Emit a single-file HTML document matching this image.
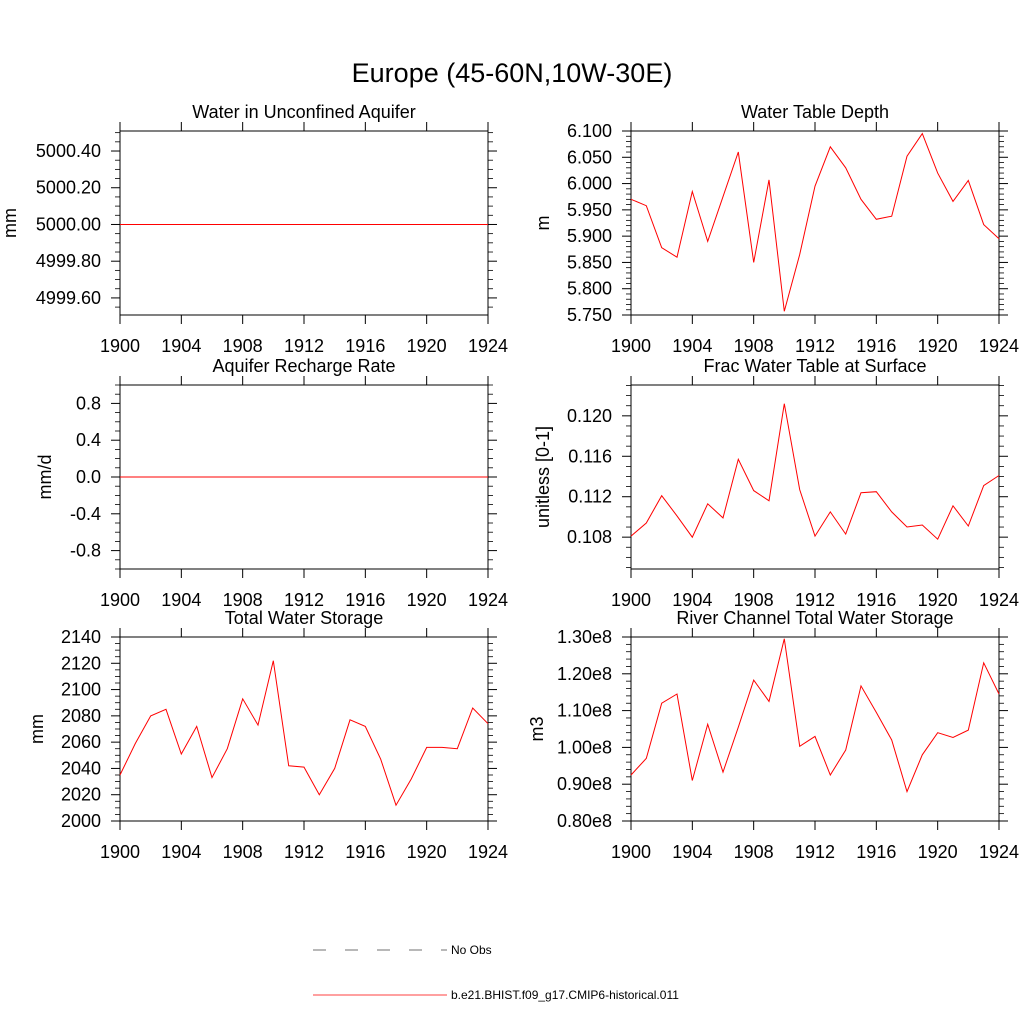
<!DOCTYPE html>
<html><head><meta charset="utf-8"><style>
body{margin:0;background:#fff;}
svg{display:block;font-family:"Liberation Sans",sans-serif;}
</style></head><body>
<svg id="c" width="1024" height="1024" xmlns="http://www.w3.org/2000/svg">
<rect width="1024" height="1024" fill="#fff"/>
<text x="512" y="82" font-size="27" text-anchor="middle">Europe (45-60N,10W-30E)</text>
<g>
<line x1="313" y1="950" x2="447" y2="950" stroke="#444" stroke-width="0.7" stroke-dasharray="13,19"/>
<text x="451" y="954" font-size="12">No Obs</text>
<line x1="313" y1="995" x2="447" y2="995" stroke="red" stroke-width="0.7"/>
<text x="451" y="999" font-size="12">b.e21.BHIST.f09_g17.CMIP6-historical.011</text>
</g>
</svg>
<script>
const years = [1900,1901,1902,1903,1904,1905,1906,1907,1908,1909,1910,1911,1912,1913,1914,1915,1916,1917,1918,1919,1920,1921,1922,1923,1924];
const xTicks = [1900,1904,1908,1912,1916,1920,1924];
const aquiferVals = years.map(()=>5000.0);
const aquiferTicks = [4999.6,4999.8,5000.0,5000.2,5000.4];
const aquiferLabels = ["4999.60","4999.80","5000.00","5000.20","5000.40"];
const wtdVals = [5.970,5.958,5.878,5.860,5.985,5.890,5.975,6.060,5.850,6.007,5.757,5.865,5.995,6.070,6.030,5.970,5.932,5.938,6.052,6.095,6.020,5.966,6.006,5.922,5.895];
const wtdTicks = [5.75,5.8,5.85,5.9,5.95,6.0,6.05,6.1];
const wtdLabels = ["5.750","5.800","5.850","5.900","5.950","6.000","6.050","6.100"];
const rechargeVals = years.map(()=>0.0);
const rechargeTicks = [-0.8,-0.4,0.0,0.4,0.8];
const rechargeLabels = ["-0.8","-0.4","0.0","0.4","0.8"];
const fracVals = [0.1081,0.1094,0.1121,0.1101,0.1080,0.1113,0.1099,0.1157,0.1126,0.1116,0.1212,0.1127,0.1081,0.1105,0.1083,0.1124,0.1125,0.1105,0.1090,0.1092,0.1078,0.1111,0.1091,0.1131,0.1141];
const fracTicks = [0.108,0.112,0.116,0.120];
const fracLabels = ["0.108","0.112","0.116","0.120"];
const twsVals = [2035,2059,2080,2085,2051,2072,2033,2055,2093,2073,2122,2042,2041,2020,2040,2077,2072,2047,2012,2032,2056,2056,2055,2086,2074];
const twsTicks = [2000,2020,2040,2060,2080,2100,2120,2140];
const twsLabels = ["2000","2020","2040","2060","2080","2100","2120","2140"];
const riverVals = [0.925,0.97,1.12,1.145,0.91,1.063,0.933,1.055,1.183,1.125,1.295,1.003,1.03,0.925,0.993,1.167,1.095,1.02,0.88,0.98,1.04,1.027,1.047,1.23,1.145];
const riverTicks = [0.8,0.9,1.0,1.1,1.2,1.3];
const riverLabels = ["0.80e8","0.90e8","1.00e8","1.10e8","1.20e8","1.30e8"];

const svg=document.getElementById('c');
const NS='http://www.w3.org/2000/svg';
function mk(tag,attrs,parent){const e=document.createElementNS(NS,tag);for(const k in attrs)e.setAttribute(k,attrs[k]);parent.appendChild(e);return e;}

function panel(key,title,ylab,ylabOff,x0,y0,vals,ymin,ymax,ticks,labels,minorN){
  const W=368,H=184,x1=x0+W,y1=y0+H;
  const g=mk('g',{},svg);
  
  
  const sx=v=>x0+(v-1900)/24*W;
  const sy=v=>y1-(v-ymin)/(ymax-ymin)*H;
  const fr=mk('rect',{x:x0,y:y0,width:W,height:H,fill:'none',stroke:'#000','stroke-width':1},g);
  
  
  const t=mk('text',{x:x0+W/2,y:y0-13,'font-size':18,'text-anchor':'middle'},g);t.textContent=title;
  
  
  const yl=mk('text',{x:0,y:0,'font-size':18,'text-anchor':'middle',transform:`translate(${x0-ylabOff},${y0+H/2}) rotate(-90)`},g);yl.textContent=ylab;
  
  
  xTicks.forEach(v=>{const x=sx(v);
    mk('line',{x1:x,y1:y1,x2:x,y2:y1+9,stroke:'#000'},g);
    mk('line',{x1:x,y1:y0,x2:x,y2:y0-9,stroke:'#000'},g);
    const l=mk('text',{x:x,y:y1+37,'font-size':18,'text-anchor':'middle'},g);l.textContent=v;
    
    
  });
  const step=ticks[1]-ticks[0];
  for(let i=-1;i<ticks.length;i++){
    for(let j=1;j<=minorN;j++){const v=ticks[0]+(i+j/(minorN+1))*step;
      if(v<ymin||v>ymax)continue;const y=sy(v);
      mk('line',{x1:x0,y1:y,x2:x0-5,y2:y,stroke:'#000','stroke-width':0.8},g);
      mk('line',{x1:x1,y1:y,x2:x1+5,y2:y,stroke:'#000','stroke-width':0.8},g);}
  }
  ticks.forEach((v,i)=>{const y=sy(v);
    mk('line',{x1:x0,y1:y,x2:x0-9,y2:y,stroke:'#000'},g);
    mk('line',{x1:x1,y1:y,x2:x1+9,y2:y,stroke:'#000'},g);
    const l=mk('text',{x:x0-19,y:y+6,'font-size':18,'text-anchor':'end'},g);l.textContent=labels[i];
    
    
  });
  const pts=vals.map((v,i)=>sx(years[i]).toFixed(1)+','+sy(v).toFixed(1)).join(' ');
  const pl=mk('polyline',{points:pts,fill:'none',stroke:'red','stroke-width':1},g);
  
  
}
panel('aquifer-water','Water in Unconfined Aquifer','mm',104,120,131,aquiferVals,4999.507,5000.509,aquiferTicks,aquiferLabels,3);
panel('water-table-depth','Water Table Depth','m',82,631,131,wtdVals,5.75,6.10,wtdTicks,wtdLabels,4);
panel('recharge-rate','Aquifer Recharge Rate','mm/d',69,120,385,rechargeVals,-1.0,1.0,rechargeTicks,rechargeLabels,3);
panel('frac-water-table','Frac Water Table at Surface','unitless [0-1]',82,631,385,fracVals,0.10485,0.12305,fracTicks,fracLabels,3);
panel('total-water-storage','Total Water Storage','mm',77,120,637,twsVals,2000,2140,twsTicks,twsLabels,3);
panel('river-storage','River Channel Total Water Storage','m3',88,631,637,riverVals,0.8,1.3,riverTicks,riverLabels,4);
</script>
</body></html>
